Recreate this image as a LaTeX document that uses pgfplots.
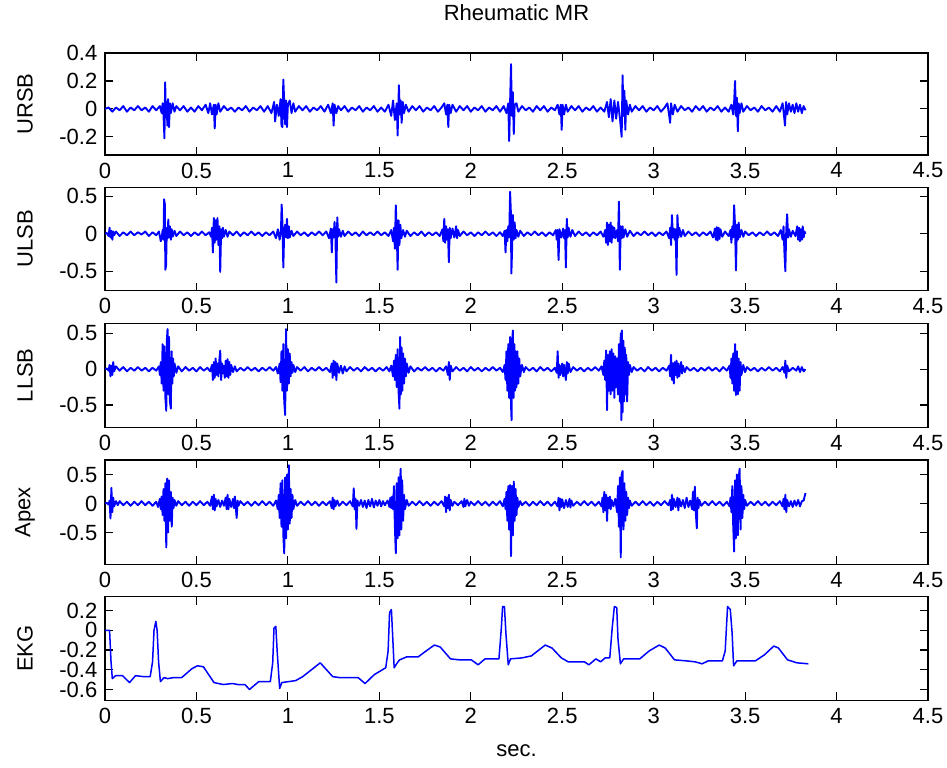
\documentclass[border=0pt]{standalone}
\usepackage{fontspec}
\setmainfont{Liberation Sans}
\usepackage{pgfplots}
\pgfplotsset{compat=1.18}
\definecolor{mblue}{RGB}{0,0,255}
\tikzset{sig/.style={draw=mblue, line width=0.95pt, mark=none, line join=round}}
\pgfplotsset{panel/.style={
  scale only axis, width=411.5pt, anchor=north west,
  xmin=0, xmax=4.5,
  xtick={0,0.5,1,1.5,2,2.5,3,3.5,4,4.5},
  xticklabels={0,0.5,1,1.5,2,2.5,3,3.5,4,4.5},
  tick align=inside, major tick length=4pt,
  axis line style={line width=0.6pt},
  every tick/.style={black, line width=0.6pt},
  tick label style={font=\fontsize{11}{13}\selectfont},
  label style={font=\fontsize{11}{13}\selectfont},
  ylabel style={at={(axis description cs:-0.0972,0.5)}, anchor=center, rotate=0},
  scaled ticks=false,
  clip=true,
  no markers,
}}
\begin{document}
\fontsize{11}{13}\selectfont
\begin{tikzpicture}
% ---------------- URSB ----------------
\begin{axis}[panel, at={(52.5pt,-26.5pt)}, height=51pt,
  ymin=-0.33, ymax=0.4, ytick={-0.2,0,0.2,0.4}, yticklabels={-0.2,0,0.2,0.4},
  ylabel={URSB},
  title={Rheumatic MR}, title style={at={(axis description cs:0.5,1)}, anchor=center, yshift=14pt, font=\fontsize{11}{13}\selectfont}]
\addplot[sig] coordinates {(0,0)(0.02,0.01)(0.04,-0.02)(0.06,0.01)(0.08,-0.01)(0.10,0.02)(0.12,-0.02)(0.14,0.01)(0.16,-0.01)(0.18,0.02)(0.20,-0.01)(0.22,0.01)(0.24,-0.02)(0.26,0.02)(0.28,-0.01)(0.30,0.02)(0.31,-0.03)(0.315,0.04)(0.32,-0.05)(0.325,-0.21)(0.329,0.19)(0.333,-0.06)(0.337,0.05)(0.341,-0.12)(0.345,0.07)(0.35,-0.13)(0.355,0.04)(0.36,-0.03)(0.37,0.04)(0.38,-0.02)(0.39,0.02)(0.41,-0.01)(0.43,0.02)(0.45,-0.02)(0.47,0.01)(0.49,-0.02)(0.51,0.02)(0.53,-0.01)(0.55,0.03)(0.565,-0.03)(0.575,0.04)(0.585,-0.04)(0.595,0.03)(0.60,-0.14)(0.605,0.03)(0.61,-0.04)(0.62,0.04)(0.63,-0.02)(0.65,0.02)(0.67,-0.01)(0.69,0.01)(0.71,-0.02)(0.73,0.01)(0.75,-0.01)(0.77,0.02)(0.79,-0.02)(0.81,0.01)(0.83,-0.01)(0.85,0.02)(0.87,-0.02)(0.89,0.02)(0.91,-0.03)(0.925,0.05)(0.93,-0.09)(0.94,0.03)(0.95,-0.05)(0.96,0.07)(0.965,-0.12)(0.97,-0.13)(0.975,0.21)(0.98,0.05)(0.985,-0.11)(0.99,0.06)(0.995,-0.13)(1.00,0.03)(1.01,0.06)(1.02,-0.03)(1.03,0.04)(1.04,-0.02)(1.06,0.02)(1.08,-0.01)(1.10,0.02)(1.12,-0.02)(1.14,0.01)(1.16,-0.01)(1.18,0.02)(1.20,-0.02)(1.22,0.03)(1.235,-0.03)(1.245,0.04)(1.25,-0.12)(1.255,0.03)(1.265,-0.03)(1.275,0.02)(1.29,-0.01)(1.31,0.02)(1.33,-0.02)(1.35,0.01)(1.37,-0.01)(1.39,0.02)(1.41,-0.02)(1.43,0.01)(1.45,-0.01)(1.47,0.02)(1.49,-0.02)(1.51,0.01)(1.53,-0.02)(1.55,0.03)(1.565,-0.05)(1.575,0.06)(1.585,-0.08)(1.595,0.04)(1.60,-0.19)(1.607,0.17)(1.612,-0.04)(1.617,0.06)(1.622,-0.10)(1.628,0.05)(1.635,-0.03)(1.645,0.03)(1.66,-0.02)(1.68,0.02)(1.70,-0.01)(1.72,0.02)(1.74,-0.02)(1.76,0.01)(1.78,-0.01)(1.80,0.02)(1.82,-0.02)(1.84,0.01)(1.855,0.04)(1.865,-0.04)(1.872,0.03)(1.877,-0.13)(1.882,0.03)(1.89,-0.03)(1.90,0.03)(1.92,-0.02)(1.94,0.02)(1.96,-0.01)(1.98,0.02)(2.00,-0.02)(2.02,0.01)(2.04,-0.01)(2.06,0.02)(2.08,-0.02)(2.10,0.01)(2.12,-0.01)(2.14,0.02)(2.16,-0.02)(2.18,0.02)(2.195,-0.03)(2.205,0.04)(2.21,-0.23)(2.215,0.05)(2.22,0.32)(2.225,-0.05)(2.23,0.12)(2.235,-0.18)(2.24,0.03)(2.25,0.04)(2.26,-0.02)(2.28,0.02)(2.30,-0.01)(2.32,0.01)(2.34,-0.02)(2.36,0.02)(2.38,-0.01)(2.40,0.02)(2.42,-0.02)(2.44,0.01)(2.46,-0.01)(2.475,0.03)(2.485,-0.04)(2.492,0.03)(2.497,-0.15)(2.502,0.03)(2.51,-0.04)(2.52,0.03)(2.53,-0.02)(2.55,0.02)(2.57,-0.01)(2.59,0.02)(2.61,-0.02)(2.63,0.01)(2.65,-0.01)(2.67,0.02)(2.69,-0.02)(2.71,0.01)(2.73,-0.02)(2.745,0.05)(2.755,-0.06)(2.765,0.07)(2.775,-0.09)(2.785,0.06)(2.795,-0.07)(2.805,0.05)(2.815,-0.06)(2.825,-0.20)(2.83,0.24)(2.835,-0.05)(2.84,0.13)(2.845,-0.15)(2.85,0.06)(2.86,-0.04)(2.87,0.03)(2.88,-0.02)(2.90,0.02)(2.92,-0.01)(2.94,0.02)(2.96,-0.02)(2.98,0.01)(3.00,-0.01)(3.02,0.02)(3.04,-0.02)(3.06,0.01)(3.075,0.04)(3.085,-0.05)(3.09,-0.10)(3.095,0.04)(3.105,-0.04)(3.115,0.03)(3.13,-0.02)(3.15,0.02)(3.17,-0.01)(3.19,0.01)(3.21,-0.02)(3.23,0.02)(3.25,-0.01)(3.27,0.02)(3.29,-0.02)(3.31,0.01)(3.33,-0.01)(3.35,0.02)(3.37,-0.02)(3.39,0.01)(3.41,-0.02)(3.425,0.03)(3.435,-0.04)(3.44,0.05)(3.445,0.20)(3.45,-0.05)(3.455,0.08)(3.46,-0.16)(3.465,0.04)(3.47,-0.03)(3.48,0.04)(3.49,-0.02)(3.51,0.02)(3.53,-0.01)(3.55,0.01)(3.57,-0.02)(3.59,0.02)(3.61,-0.01)(3.63,0.01)(3.65,-0.02)(3.67,0.02)(3.69,-0.02)(3.705,0.04)(3.712,-0.04)(3.718,-0.12)(3.724,0.05)(3.73,-0.04)(3.74,0.04)(3.75,-0.02)(3.76,0.03)(3.77,-0.03)(3.78,0.04)(3.79,-0.02)(3.80,0.03)(3.81,-0.03)(3.82,0.02)(3.83,-0.01)};
\end{axis}
% ---------------- ULSB ----------------
\begin{axis}[panel, at={(52.5pt,-93.65pt)}, height=51.7pt,
  ymin=-0.76, ymax=0.62, ytick={-0.5,0,0.5}, yticklabels={-0.5,0,0.5},
  ylabel={ULSB}]
\addplot[sig] coordinates {(0,0)(0.01,0.01)(0.02,-0.03)(0.025,0.08)(0.03,-0.05)(0.035,0.04)(0.04,-0.08)(0.045,0.03)(0.05,-0.02)(0.06,0.03)(0.08,-0.03)(0.10,0.02)(0.12,-0.02)(0.14,0.03)(0.16,-0.02)(0.18,0.02)(0.20,-0.01)(0.22,0.03)(0.24,-0.03)(0.26,0.02)(0.28,-0.02)(0.295,0.03)(0.305,-0.10)(0.31,-0.05)(0.315,0.05)(0.32,-0.08)(0.323,0.46)(0.327,0.40)(0.33,-0.48)(0.334,-0.42)(0.338,0.08)(0.342,-0.06)(0.346,0.19)(0.35,-0.05)(0.355,0.10)(0.36,-0.08)(0.365,0.06)(0.37,-0.04)(0.38,0.04)(0.39,-0.03)(0.41,0.03)(0.43,-0.02)(0.45,0.02)(0.47,-0.03)(0.49,0.02)(0.51,-0.02)(0.53,0.03)(0.55,-0.02)(0.57,0.02)(0.58,-0.04)(0.585,0.08)(0.59,-0.25)(0.595,0.21)(0.60,-0.12)(0.605,0.18)(0.61,-0.08)(0.615,0.21)(0.62,-0.15)(0.625,0.10)(0.63,-0.51)(0.635,0.06)(0.64,-0.06)(0.645,0.08)(0.65,-0.04)(0.66,0.05)(0.67,-0.04)(0.68,0.03)(0.70,-0.02)(0.72,0.03)(0.74,-0.03)(0.76,0.02)(0.78,-0.02)(0.80,0.03)(0.82,-0.02)(0.84,0.02)(0.86,-0.03)(0.88,0.02)(0.90,-0.02)(0.92,0.03)(0.935,-0.06)(0.945,0.06)(0.955,-0.08)(0.962,0.05)(0.966,0.39)(0.97,0.15)(0.975,-0.45)(0.98,0.05)(0.985,0.12)(0.99,-0.05)(0.995,0.20)(1.00,-0.06)(1.005,0.10)(1.01,-0.05)(1.02,0.04)(1.03,-0.03)(1.05,0.03)(1.07,-0.02)(1.09,0.02)(1.11,-0.03)(1.13,0.02)(1.15,-0.02)(1.17,0.03)(1.19,-0.02)(1.21,0.03)(1.225,-0.06)(1.235,0.07)(1.24,-0.25)(1.245,0.06)(1.25,-0.05)(1.255,0.16)(1.26,-0.05)(1.265,-0.65)(1.27,0.22)(1.275,-0.04)(1.28,0.06)(1.29,-0.04)(1.30,0.04)(1.31,-0.03)(1.33,0.03)(1.35,-0.02)(1.37,0.02)(1.39,-0.03)(1.41,0.03)(1.43,-0.02)(1.45,0.02)(1.47,-0.02)(1.49,0.03)(1.51,-0.02)(1.53,0.02)(1.55,-0.03)(1.565,0.05)(1.575,-0.10)(1.58,0.08)(1.585,-0.20)(1.59,0.38)(1.595,0.05)(1.60,-0.48)(1.605,0.18)(1.61,-0.15)(1.615,0.12)(1.62,-0.06)(1.63,0.05)(1.64,-0.04)(1.65,0.04)(1.67,-0.03)(1.69,0.02)(1.71,-0.02)(1.73,0.03)(1.75,-0.03)(1.77,0.02)(1.79,-0.02)(1.81,0.02)(1.83,-0.03)(1.845,0.06)(1.85,-0.10)(1.855,0.20)(1.86,-0.12)(1.865,0.10)(1.87,-0.08)(1.875,0.06)(1.88,-0.38)(1.885,0.08)(1.89,-0.06)(1.90,0.07)(1.91,-0.05)(1.92,0.10)(1.925,-0.06)(1.93,0.05)(1.94,-0.03)(1.96,0.03)(1.98,-0.02)(2.00,0.02)(2.02,-0.03)(2.04,0.02)(2.06,-0.02)(2.08,0.03)(2.10,-0.02)(2.12,0.02)(2.14,-0.03)(2.16,0.02)(2.175,-0.03)(2.185,0.04)(2.19,-0.25)(2.195,0.05)(2.20,-0.10)(2.205,0.10)(2.21,-0.05)(2.215,0.56)(2.219,0.30)(2.222,-0.53)(2.226,-0.20)(2.23,0.25)(2.235,-0.08)(2.24,0.15)(2.245,-0.06)(2.25,0.05)(2.26,-0.04)(2.27,0.04)(2.29,-0.03)(2.31,0.02)(2.33,-0.02)(2.35,0.03)(2.37,-0.02)(2.39,0.02)(2.41,-0.03)(2.43,0.02)(2.45,-0.02)(2.465,0.05)(2.47,-0.08)(2.475,0.05)(2.48,-0.35)(2.485,0.06)(2.495,-0.05)(2.505,0.07)(2.51,-0.06)(2.515,0.05)(2.52,-0.45)(2.525,0.20)(2.53,-0.05)(2.535,0.08)(2.545,-0.04)(2.555,0.05)(2.57,-0.03)(2.59,0.03)(2.61,-0.02)(2.63,0.02)(2.65,-0.03)(2.67,0.02)(2.69,-0.02)(2.71,0.03)(2.725,-0.04)(2.735,0.05)(2.74,-0.12)(2.745,0.15)(2.75,-0.15)(2.755,0.12)(2.76,-0.10)(2.765,0.15)(2.77,-0.12)(2.775,0.10)(2.78,-0.05)(2.785,0.08)(2.79,-0.06)(2.80,0.05)(2.805,-0.10)(2.81,0.43)(2.815,-0.48)(2.82,0.10)(2.825,-0.06)(2.83,0.10)(2.835,-0.05)(2.845,0.06)(2.855,-0.04)(2.87,0.04)(2.89,-0.03)(2.91,0.02)(2.93,-0.02)(2.95,0.03)(2.97,-0.02)(2.99,0.02)(3.01,-0.03)(3.03,0.02)(3.05,-0.02)(3.07,0.03)(3.085,-0.06)(3.09,0.08)(3.095,-0.15)(3.10,0.25)(3.105,-0.05)(3.11,0.07)(3.115,-0.08)(3.12,0.06)(3.125,-0.55)(3.13,0.25)(3.135,-0.05)(3.14,0.08)(3.15,-0.04)(3.16,0.05)(3.17,-0.03)(3.19,0.03)(3.21,-0.02)(3.23,0.02)(3.25,-0.03)(3.27,0.02)(3.29,-0.02)(3.31,0.03)(3.325,-0.05)(3.335,0.07)(3.34,-0.08)(3.345,0.09)(3.35,-0.09)(3.355,0.08)(3.36,-0.07)(3.365,0.06)(3.375,-0.04)(3.39,0.03)(3.41,-0.03)(3.42,0.05)(3.425,-0.12)(3.43,0.10)(3.435,-0.05)(3.44,0.38)(3.445,0.10)(3.45,-0.49)(3.455,0.12)(3.46,-0.08)(3.465,0.15)(3.47,-0.05)(3.48,0.05)(3.49,-0.04)(3.50,0.03)(3.52,-0.02)(3.54,0.02)(3.56,-0.03)(3.58,0.02)(3.60,-0.02)(3.62,0.03)(3.64,-0.02)(3.66,0.02)(3.68,-0.03)(3.695,0.05)(3.705,-0.08)(3.71,0.10)(3.715,-0.25)(3.72,-0.50)(3.725,0.06)(3.73,0.26)(3.735,-0.05)(3.74,0.06)(3.75,-0.04)(3.76,0.04)(3.775,-0.03)(3.785,0.10)(3.79,-0.08)(3.795,0.08)(3.80,-0.10)(3.805,0.06)(3.81,-0.08)(3.815,0.10)(3.82,-0.05)(3.825,0.03)(3.83,0.0)};
\end{axis}
% ---------------- LLSB ----------------
\begin{axis}[panel, at={(52.5pt,-161.65pt)}, height=52pt,
  ymin=-0.81, ymax=0.64, ytick={-0.5,0,0.5}, yticklabels={-0.5,0,0.5},
  ylabel={LLSB}]
\addplot[sig] coordinates {(0,0)(0.01,0.01)(0.02,-0.02)(0.025,0.06)(0.03,-0.10)(0.035,0.05)(0.04,-0.08)(0.045,0.10)(0.05,-0.03)(0.06,0.04)(0.08,-0.02)(0.10,0.03)(0.12,-0.03)(0.14,0.02)(0.16,-0.02)(0.18,0.03)(0.20,-0.02)(0.22,0.02)(0.24,-0.03)(0.26,0.02)(0.28,-0.02)(0.295,0.04)(0.30,-0.08)(0.305,0.10)(0.31,-0.20)(0.315,0.35)(0.32,-0.30)(0.325,0.32)(0.33,-0.40)(0.335,-0.58)(0.338,0.40)(0.342,0.56)(0.346,-0.35)(0.35,0.45)(0.355,-0.45)(0.36,-0.55)(0.364,0.25)(0.368,-0.20)(0.372,0.15)(0.376,-0.10)(0.38,0.08)(0.39,-0.05)(0.40,0.04)(0.42,-0.03)(0.44,0.03)(0.46,-0.02)(0.48,0.02)(0.50,-0.03)(0.52,0.03)(0.54,-0.02)(0.56,0.02)(0.575,-0.03)(0.585,0.06)(0.59,-0.15)(0.595,0.10)(0.60,-0.12)(0.605,0.15)(0.61,-0.08)(0.615,0.08)(0.62,-0.10)(0.625,0.12)(0.63,0.26)(0.635,-0.15)(0.64,0.08)(0.645,-0.06)(0.65,0.05)(0.655,-0.12)(0.66,0.12)(0.665,-0.10)(0.67,0.14)(0.675,-0.12)(0.68,0.10)(0.685,-0.08)(0.69,0.06)(0.70,-0.04)(0.71,0.04)(0.72,-0.03)(0.74,0.02)(0.76,-0.02)(0.78,0.03)(0.80,-0.02)(0.82,0.02)(0.84,-0.03)(0.86,0.02)(0.88,-0.02)(0.90,0.03)(0.92,-0.02)(0.935,0.03)(0.945,-0.06)(0.955,0.08)(0.96,-0.18)(0.965,0.25)(0.97,-0.30)(0.975,0.35)(0.98,-0.45)(0.985,-0.64)(0.99,0.56)(0.995,-0.30)(1.00,0.28)(1.005,-0.20)(1.01,0.22)(1.015,-0.10)(1.02,0.10)(1.025,-0.05)(1.03,0.06)(1.04,-0.04)(1.05,0.03)(1.07,-0.02)(1.09,0.03)(1.11,-0.03)(1.13,0.02)(1.15,-0.02)(1.17,0.03)(1.19,-0.02)(1.21,0.02)(1.23,-0.04)(1.24,0.08)(1.245,-0.12)(1.25,0.12)(1.255,-0.08)(1.26,0.10)(1.265,-0.15)(1.27,0.08)(1.28,-0.05)(1.29,0.05)(1.30,-0.06)(1.31,0.04)(1.32,-0.03)(1.34,0.03)(1.36,-0.02)(1.38,0.02)(1.40,-0.03)(1.42,0.03)(1.44,-0.02)(1.46,0.02)(1.48,-0.03)(1.50,0.02)(1.52,-0.02)(1.54,0.03)(1.555,-0.03)(1.565,0.05)(1.575,-0.10)(1.58,0.12)(1.585,-0.15)(1.59,0.20)(1.595,-0.25)(1.60,0.28)(1.605,-0.30)(1.61,-0.55)(1.614,0.45)(1.618,-0.35)(1.622,0.30)(1.626,-0.30)(1.63,0.22)(1.635,-0.20)(1.64,0.15)(1.645,-0.10)(1.65,0.08)(1.66,-0.05)(1.67,0.04)(1.69,-0.03)(1.71,0.02)(1.73,-0.02)(1.75,0.03)(1.77,-0.02)(1.79,0.02)(1.81,-0.03)(1.83,0.02)(1.85,-0.02)(1.865,0.04)(1.875,-0.08)(1.88,0.10)(1.885,-0.15)(1.89,0.05)(1.90,-0.03)(1.92,0.03)(1.94,-0.02)(1.96,0.02)(1.98,-0.03)(2.00,0.03)(2.02,-0.02)(2.04,0.02)(2.06,-0.03)(2.08,0.02)(2.10,-0.02)(2.12,0.03)(2.14,-0.02)(2.16,0.02)(2.175,-0.04)(2.185,0.06)(2.19,-0.15)(2.195,0.25)(2.20,-0.30)(2.205,0.35)(2.21,-0.40)(2.215,0.45)(2.22,-0.50)(2.223,-0.71)(2.227,0.40)(2.23,0.54)(2.234,-0.40)(2.238,0.35)(2.242,-0.30)(2.246,0.25)(2.25,-0.25)(2.255,0.25)(2.26,-0.20)(2.265,0.15)(2.27,-0.10)(2.28,0.06)(2.29,-0.04)(2.30,0.03)(2.32,-0.02)(2.34,0.02)(2.36,-0.03)(2.38,0.03)(2.40,-0.02)(2.42,0.02)(2.44,-0.03)(2.46,0.02)(2.47,-0.05)(2.475,0.25)(2.48,-0.12)(2.485,0.06)(2.49,-0.08)(2.50,0.08)(2.505,-0.10)(2.51,0.06)(2.52,-0.15)(2.525,0.10)(2.53,-0.06)(2.535,0.08)(2.545,-0.04)(2.56,0.03)(2.58,-0.02)(2.60,0.02)(2.62,-0.03)(2.64,0.02)(2.66,-0.02)(2.68,0.03)(2.70,-0.02)(2.715,0.04)(2.725,-0.08)(2.73,0.12)(2.735,-0.15)(2.74,0.26)(2.745,-0.57)(2.75,0.20)(2.755,-0.30)(2.76,0.25)(2.765,-0.35)(2.77,0.28)(2.775,-0.30)(2.78,0.22)(2.785,-0.40)(2.79,0.18)(2.795,-0.25)(2.80,0.15)(2.805,-0.35)(2.81,0.35)(2.815,-0.45)(2.82,0.50)(2.823,-0.71)(2.826,0.54)(2.83,-0.60)(2.834,0.40)(2.838,-0.45)(2.842,0.30)(2.846,-0.35)(2.85,0.20)(2.855,-0.45)(2.86,0.10)(2.865,-0.08)(2.87,0.06)(2.88,-0.04)(2.89,0.03)(2.91,-0.02)(2.93,0.02)(2.95,-0.03)(2.97,0.03)(2.99,-0.02)(3.01,0.02)(3.03,-0.03)(3.05,0.02)(3.07,-0.02)(3.085,0.05)(3.09,-0.10)(3.095,0.20)(3.10,-0.15)(3.105,0.08)(3.11,-0.20)(3.115,0.10)(3.12,-0.08)(3.125,0.12)(3.13,-0.12)(3.135,0.08)(3.14,-0.10)(3.15,0.10)(3.155,-0.06)(3.16,0.05)(3.17,-0.04)(3.18,0.03)(3.20,-0.02)(3.22,0.02)(3.24,-0.03)(3.26,0.02)(3.28,-0.02)(3.30,0.03)(3.32,-0.02)(3.34,0.02)(3.36,-0.03)(3.38,0.03)(3.40,-0.02)(3.415,0.05)(3.42,-0.12)(3.425,0.15)(3.43,-0.20)(3.435,0.22)(3.44,-0.30)(3.445,0.35)(3.45,-0.36)(3.455,0.25)(3.46,-0.35)(3.465,0.15)(3.47,-0.30)(3.475,0.10)(3.48,-0.08)(3.49,0.06)(3.50,-0.04)(3.51,0.03)(3.53,-0.02)(3.55,0.02)(3.57,-0.03)(3.59,0.02)(3.61,-0.02)(3.63,0.03)(3.65,-0.02)(3.67,0.02)(3.69,-0.03)(3.705,0.03)(3.715,-0.05)(3.72,0.12)(3.725,-0.12)(3.73,0.05)(3.74,-0.03)(3.76,0.02)(3.78,-0.02)(3.79,0.04)(3.80,-0.04)(3.81,0.03)(3.82,-0.03)(3.83,0.0)};
\end{axis}
% ---------------- Apex ----------------
\begin{axis}[panel, at={(52.5pt,-230pt)}, height=52.15pt,
  ymin=-1.05, ymax=0.75, ytick={-0.5,0,0.5}, yticklabels={-0.5,0,0.5},
  ylabel={Apex}]
\addplot[sig] coordinates {(0,0)(0.01,0.01)(0.02,-0.02)(0.025,0.05)(0.03,-0.26)(0.035,0.27)(0.04,-0.15)(0.045,0.10)(0.05,-0.05)(0.06,0.04)(0.07,-0.03)(0.08,0.04)(0.10,-0.03)(0.12,0.03)(0.14,-0.04)(0.16,0.03)(0.18,-0.03)(0.20,0.04)(0.22,-0.03)(0.24,0.03)(0.26,-0.04)(0.28,0.03)(0.29,-0.06)(0.30,0.08)(0.305,-0.10)(0.31,0.12)(0.315,-0.20)(0.32,0.25)(0.325,-0.30)(0.33,0.35)(0.335,-0.76)(0.34,0.43)(0.345,-0.50)(0.35,0.40)(0.355,-0.30)(0.36,0.20)(0.365,-0.40)(0.37,0.10)(0.375,-0.08)(0.38,0.06)(0.39,-0.04)(0.40,0.04)(0.42,-0.03)(0.44,0.03)(0.46,-0.04)(0.48,0.03)(0.50,-0.03)(0.52,0.04)(0.54,-0.03)(0.56,0.03)(0.575,-0.04)(0.585,0.12)(0.59,-0.10)(0.595,0.15)(0.60,-0.12)(0.605,0.08)(0.61,-0.05)(0.62,0.06)(0.63,-0.06)(0.64,0.05)(0.65,-0.04)(0.66,0.10)(0.665,-0.10)(0.67,0.15)(0.675,-0.10)(0.68,0.08)(0.69,-0.06)(0.70,0.08)(0.705,-0.08)(0.71,0.12)(0.72,-0.25)(0.725,0.05)(0.73,-0.04)(0.74,0.04)(0.76,-0.03)(0.78,0.03)(0.80,-0.04)(0.82,0.03)(0.84,-0.03)(0.86,0.04)(0.88,-0.03)(0.90,0.03)(0.92,-0.04)(0.935,0.05)(0.945,-0.10)(0.95,0.15)(0.955,-0.25)(0.96,0.35)(0.965,-0.40)(0.97,0.40)(0.975,-0.55)(0.98,-0.86)(0.985,0.45)(0.99,-0.60)(0.995,0.50)(1.00,-0.45)(1.005,0.66)(1.01,-0.35)(1.015,0.25)(1.02,-0.25)(1.025,0.15)(1.03,-0.10)(1.04,0.06)(1.05,-0.04)(1.07,0.03)(1.09,-0.03)(1.11,0.04)(1.13,-0.03)(1.15,0.03)(1.17,-0.04)(1.19,0.03)(1.21,-0.03)(1.23,0.04)(1.24,-0.08)(1.245,0.10)(1.25,-0.10)(1.255,0.06)(1.26,-0.05)(1.27,0.05)(1.28,-0.04)(1.30,0.03)(1.32,-0.03)(1.34,0.04)(1.355,-0.05)(1.36,0.26)(1.365,-0.10)(1.37,0.08)(1.375,-0.44)(1.38,0.05)(1.39,-0.04)(1.40,0.06)(1.41,-0.06)(1.42,0.05)(1.43,-0.08)(1.44,0.06)(1.45,-0.05)(1.46,0.08)(1.47,-0.07)(1.48,0.05)(1.49,-0.04)(1.50,0.06)(1.51,-0.05)(1.52,0.04)(1.53,-0.03)(1.545,0.05)(1.555,-0.06)(1.56,0.10)(1.565,-0.08)(1.57,0.12)(1.575,-0.10)(1.58,0.30)(1.585,-0.40)(1.59,-0.86)(1.595,0.35)(1.60,-0.60)(1.605,0.45)(1.61,-0.55)(1.615,0.50)(1.617,0.60)(1.62,-0.45)(1.625,0.40)(1.63,-0.30)(1.635,0.15)(1.64,-0.10)(1.65,0.06)(1.66,-0.04)(1.68,0.03)(1.70,-0.03)(1.72,0.04)(1.74,-0.03)(1.76,0.03)(1.78,-0.04)(1.80,0.03)(1.82,-0.03)(1.84,0.04)(1.855,-0.05)(1.86,0.12)(1.865,-0.15)(1.87,0.10)(1.875,-0.08)(1.88,0.15)(1.885,-0.12)(1.89,0.06)(1.90,-0.04)(1.91,0.03)(1.93,-0.03)(1.95,0.04)(1.96,-0.06)(1.965,0.08)(1.97,-0.05)(1.98,0.06)(1.99,-0.04)(2.00,0.03)(2.02,-0.03)(2.04,0.04)(2.06,-0.03)(2.08,0.03)(2.10,-0.04)(2.12,0.03)(2.14,-0.03)(2.16,0.04)(2.175,-0.05)(2.185,0.08)(2.19,-0.10)(2.195,0.20)(2.20,-0.30)(2.205,0.30)(2.21,-0.45)(2.215,0.32)(2.22,-0.91)(2.225,0.30)(2.23,-0.55)(2.235,0.38)(2.24,-0.30)(2.245,0.25)(2.25,-0.20)(2.255,0.10)(2.26,-0.06)(2.27,0.04)(2.28,-0.03)(2.30,0.03)(2.32,-0.04)(2.34,0.03)(2.36,-0.03)(2.38,0.04)(2.40,-0.03)(2.42,0.03)(2.44,-0.04)(2.46,0.03)(2.475,-0.05)(2.48,0.10)(2.485,-0.12)(2.49,0.08)(2.495,-0.06)(2.50,0.07)(2.51,-0.08)(2.52,0.06)(2.53,-0.06)(2.54,0.08)(2.545,-0.07)(2.55,0.05)(2.56,-0.04)(2.58,0.03)(2.60,-0.03)(2.62,0.04)(2.64,-0.03)(2.66,0.03)(2.68,-0.04)(2.70,0.03)(2.715,-0.05)(2.72,0.10)(2.725,-0.15)(2.73,0.20)(2.735,-0.12)(2.74,0.15)(2.745,-0.30)(2.75,0.10)(2.755,-0.08)(2.76,0.12)(2.765,-0.10)(2.77,0.06)(2.78,-0.05)(2.79,0.08)(2.80,-0.15)(2.805,0.30)(2.81,-0.40)(2.815,0.45)(2.82,-0.93)(2.825,0.50)(2.83,0.56)(2.835,-0.45)(2.84,0.35)(2.845,-0.30)(2.85,0.20)(2.855,-0.20)(2.86,0.10)(2.865,-0.08)(2.87,0.05)(2.88,-0.04)(2.90,0.03)(2.92,-0.03)(2.94,0.04)(2.96,-0.03)(2.98,0.03)(3.00,-0.04)(3.02,0.03)(3.04,-0.03)(3.06,0.04)(3.08,-0.03)(3.09,0.06)(3.095,-0.12)(3.10,0.15)(3.105,-0.10)(3.11,0.08)(3.12,-0.06)(3.13,0.10)(3.135,-0.12)(3.14,0.08)(3.15,-0.05)(3.16,0.06)(3.17,-0.08)(3.18,0.10)(3.19,-0.06)(3.20,0.05)(3.21,-0.10)(3.215,0.20)(3.22,-0.12)(3.225,0.29)(3.23,-0.15)(3.236,-0.43)(3.24,0.10)(3.245,-0.08)(3.25,0.06)(3.26,-0.04)(3.28,0.03)(3.30,-0.03)(3.32,0.04)(3.34,-0.03)(3.36,0.03)(3.38,-0.04)(3.40,0.03)(3.415,-0.05)(3.42,0.10)(3.425,-0.15)(3.43,0.30)(3.435,-0.40)(3.44,-0.83)(3.445,0.40)(3.45,-0.60)(3.455,0.50)(3.46,-0.55)(3.465,0.45)(3.47,0.60)(3.475,-0.45)(3.48,0.30)(3.485,-0.25)(3.49,0.15)(3.495,-0.10)(3.50,0.06)(3.51,-0.04)(3.53,0.03)(3.55,-0.03)(3.57,0.04)(3.59,-0.03)(3.61,0.03)(3.63,-0.04)(3.65,0.03)(3.67,-0.03)(3.69,0.04)(3.705,-0.05)(3.71,0.08)(3.715,-0.10)(3.72,0.15)(3.725,-0.15)(3.73,0.06)(3.74,-0.05)(3.75,0.04)(3.76,-0.06)(3.77,0.05)(3.78,-0.04)(3.79,0.06)(3.80,-0.05)(3.81,0.04)(3.82,0.05)(3.83,0.18)};
\end{axis}
% ---------------- EKG ----------------
\begin{axis}[panel, at={(52.5pt,-298.35pt)}, height=51.8pt,
  ymin=-0.71, ymax=0.34, ytick={-0.6,-0.4,-0.2,0,0.2}, yticklabels={-0.6,-0.4,-0.2,0,0.2},
  ylabel={EKG},
  xlabel={sec.}, xlabel style={at={(axis description cs:0.5,0)}, anchor=center, yshift=-25pt}]
\addplot[sig, line width=0.75pt] coordinates {(0,0.0)(0.025,0.0)(0.033,-0.32)(0.040,-0.49)(0.058,-0.46)(0.096,-0.46)(0.134,-0.53)(0.167,-0.46)(0.210,-0.47)(0.247,-0.47)(0.260,-0.32)(0.268,0.0)(0.278,0.09)(0.285,0.0)(0.293,-0.32)(0.303,-0.52)(0.323,-0.48)(0.343,-0.49)(0.374,-0.48)(0.419,-0.48)(0.475,-0.39)(0.505,-0.36)(0.538,-0.37)(0.596,-0.53)(0.646,-0.55)(0.697,-0.54)(0.727,-0.55)(0.765,-0.55)(0.790,-0.60)(0.841,-0.52)(0.904,-0.52)(0.917,-0.33)(0.924,0.02)(0.934,0.04)(0.942,-0.23)(0.955,-0.59)(0.967,-0.53)(1.005,-0.52)(1.043,-0.51)(1.081,-0.47)(1.177,-0.33)(1.245,-0.47)(1.283,-0.48)(1.384,-0.48)(1.422,-0.54)(1.472,-0.45)(1.535,-0.38)(1.548,-0.21)(1.556,0.18)(1.566,0.21)(1.573,-0.06)(1.581,-0.38)(1.598,-0.33)(1.611,-0.30)(1.649,-0.27)(1.712,-0.27)(1.763,-0.20)(1.801,-0.15)(1.833,-0.17)(1.889,-0.29)(1.939,-0.30)(2.003,-0.30)(2.040,-0.35)(2.078,-0.29)(2.154,-0.29)(2.167,0.02)(2.174,0.24)(2.184,0.24)(2.192,-0.03)(2.205,-0.35)(2.217,-0.29)(2.280,-0.28)(2.331,-0.26)(2.407,-0.15)(2.444,-0.18)(2.495,-0.28)(2.533,-0.32)(2.621,-0.32)(2.646,-0.35)(2.684,-0.29)(2.710,-0.32)(2.735,-0.28)(2.760,-0.28)(2.773,0.02)(2.785,0.24)(2.798,0.23)(2.805,-0.09)(2.818,-0.34)(2.836,-0.29)(2.924,-0.29)(2.975,-0.21)(3.030,-0.15)(3.063,-0.18)(3.114,-0.30)(3.177,-0.31)(3.227,-0.32)(3.265,-0.34)(3.298,-0.31)(3.376,-0.31)(3.391,-0.21)(3.404,0.24)(3.419,0.21)(3.429,-0.03)(3.437,-0.36)(3.455,-0.31)(3.556,-0.31)(3.605,-0.25)(3.657,-0.16)(3.682,-0.18)(3.732,-0.30)(3.783,-0.33)(3.846,-0.34)};
\end{axis}
\pgfresetboundingbox
\path (0,0) rectangle (473.5pt,-383.5pt);
\end{tikzpicture}
\end{document}
